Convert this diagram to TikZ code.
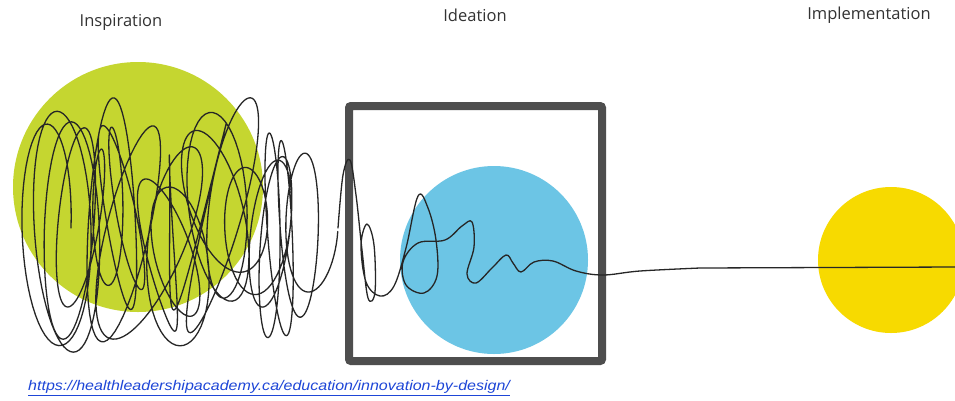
\documentclass[tikz,border=0pt]{standalone}
\usepackage{fontspec}
\setmainfont{Open Sans}
\newfontfamily\linkfont{Liberation Sans}
\definecolor{inspgreen}{RGB}{197,214,48}
\definecolor{ideablue}{RGB}{108,197,229}
\definecolor{implyellow}{RGB}{247,218,0}
\definecolor{framegray}{RGB}{78,78,78}
\definecolor{linkblue}{RGB}{30,70,215}
\tikzset{
  lbl/.style={font=\fontsize{16.5}{19}\selectfont, text=black!80, inner sep=0},
  scribble/.style={draw=black!85, line width=1.3pt, line join=round, line cap=round},
  framebox/.style={draw=framegray, line width=8pt, rounded corners=2pt},
  linkstyle/.style={font=\linkfont\itshape\fontsize{14}{16}\selectfont, text=linkblue, inner sep=0}
}
\begin{document}
\begin{tikzpicture}[x=1pt,y=-1pt,
  declare function={
    ww(\u)=sin(180*\u/23);
    th(\u)=360*\u+40*sin(140*\u)*ww(\u);
    aa(\u)=100-\u+22*sin(57*\u);
    ss(\u)=0.3*sin(71*\u+20)*ww(\u);
    sx(\u)=45+11.6*\u+(20+12*sin(47*\u+30))*cos(th(\u))+22*sin(83*\u)*ww(\u)-ss(\u)*aa(\u)*sin(th(\u));
    sy(\u)=228+28*sin(37*\u+60)*ww(\u)-aa(\u)*sin(th(\u))+12*sin(190*\u)*ww(\u);
  }]
\useasboundingbox (0,0) rectangle (955,400);
\clip (0,0) rectangle (955,400);
\fill[white] (0,0) rectangle (955,400);
% circles
\fill[inspgreen] (138,187) circle[radius=125];
\fill[ideablue] (494,260) circle[radius=94];
\fill[implyellow] (891,260) circle[radius=73];
% frame
\draw[framebox] (349,106) rectangle (602,361);
% scribble part 1
\draw[scribble] plot[domain=0:23, samples=1400, variable=\u] ({sx(\u)},{sy(\u)});
% scribble part 2
\draw[scribble] plot[smooth, tension=0.6] coordinates {
  (338,228) (343,175) (350,160) (356,195) (362,250) (368,298) (375,292)
  (374,245) (367,224) (361,245) (366,282) (380,296) (394,286) (406,248)
  (418,196) (428,208) (436,240) (437,276) (424,293) (406,285) (403,262)
  (418,243) (445,240) (462,226) (472,222) (474,247) (467,274) (476,283)
  (492,268) (506,255) (513,263) (521,272) (534,262) (553,261) (576,271)
  (603,275) (640,271) (700,268)} -- (955,267);
% labels
\node[lbl] (insp) at (121,22) {Inspiration};
\node[lbl] (idea) at (475,15) {Ideation};
\node[lbl] (impl) at (869,15) {Implementation};
\node[linkstyle, anchor=west] (src) at (28,388)
  {\scalebox{1.145}[1]{\underline{https://healthleadershipacademy.ca/education/innovation-by-design/}}};
\end{tikzpicture}
\end{document}
